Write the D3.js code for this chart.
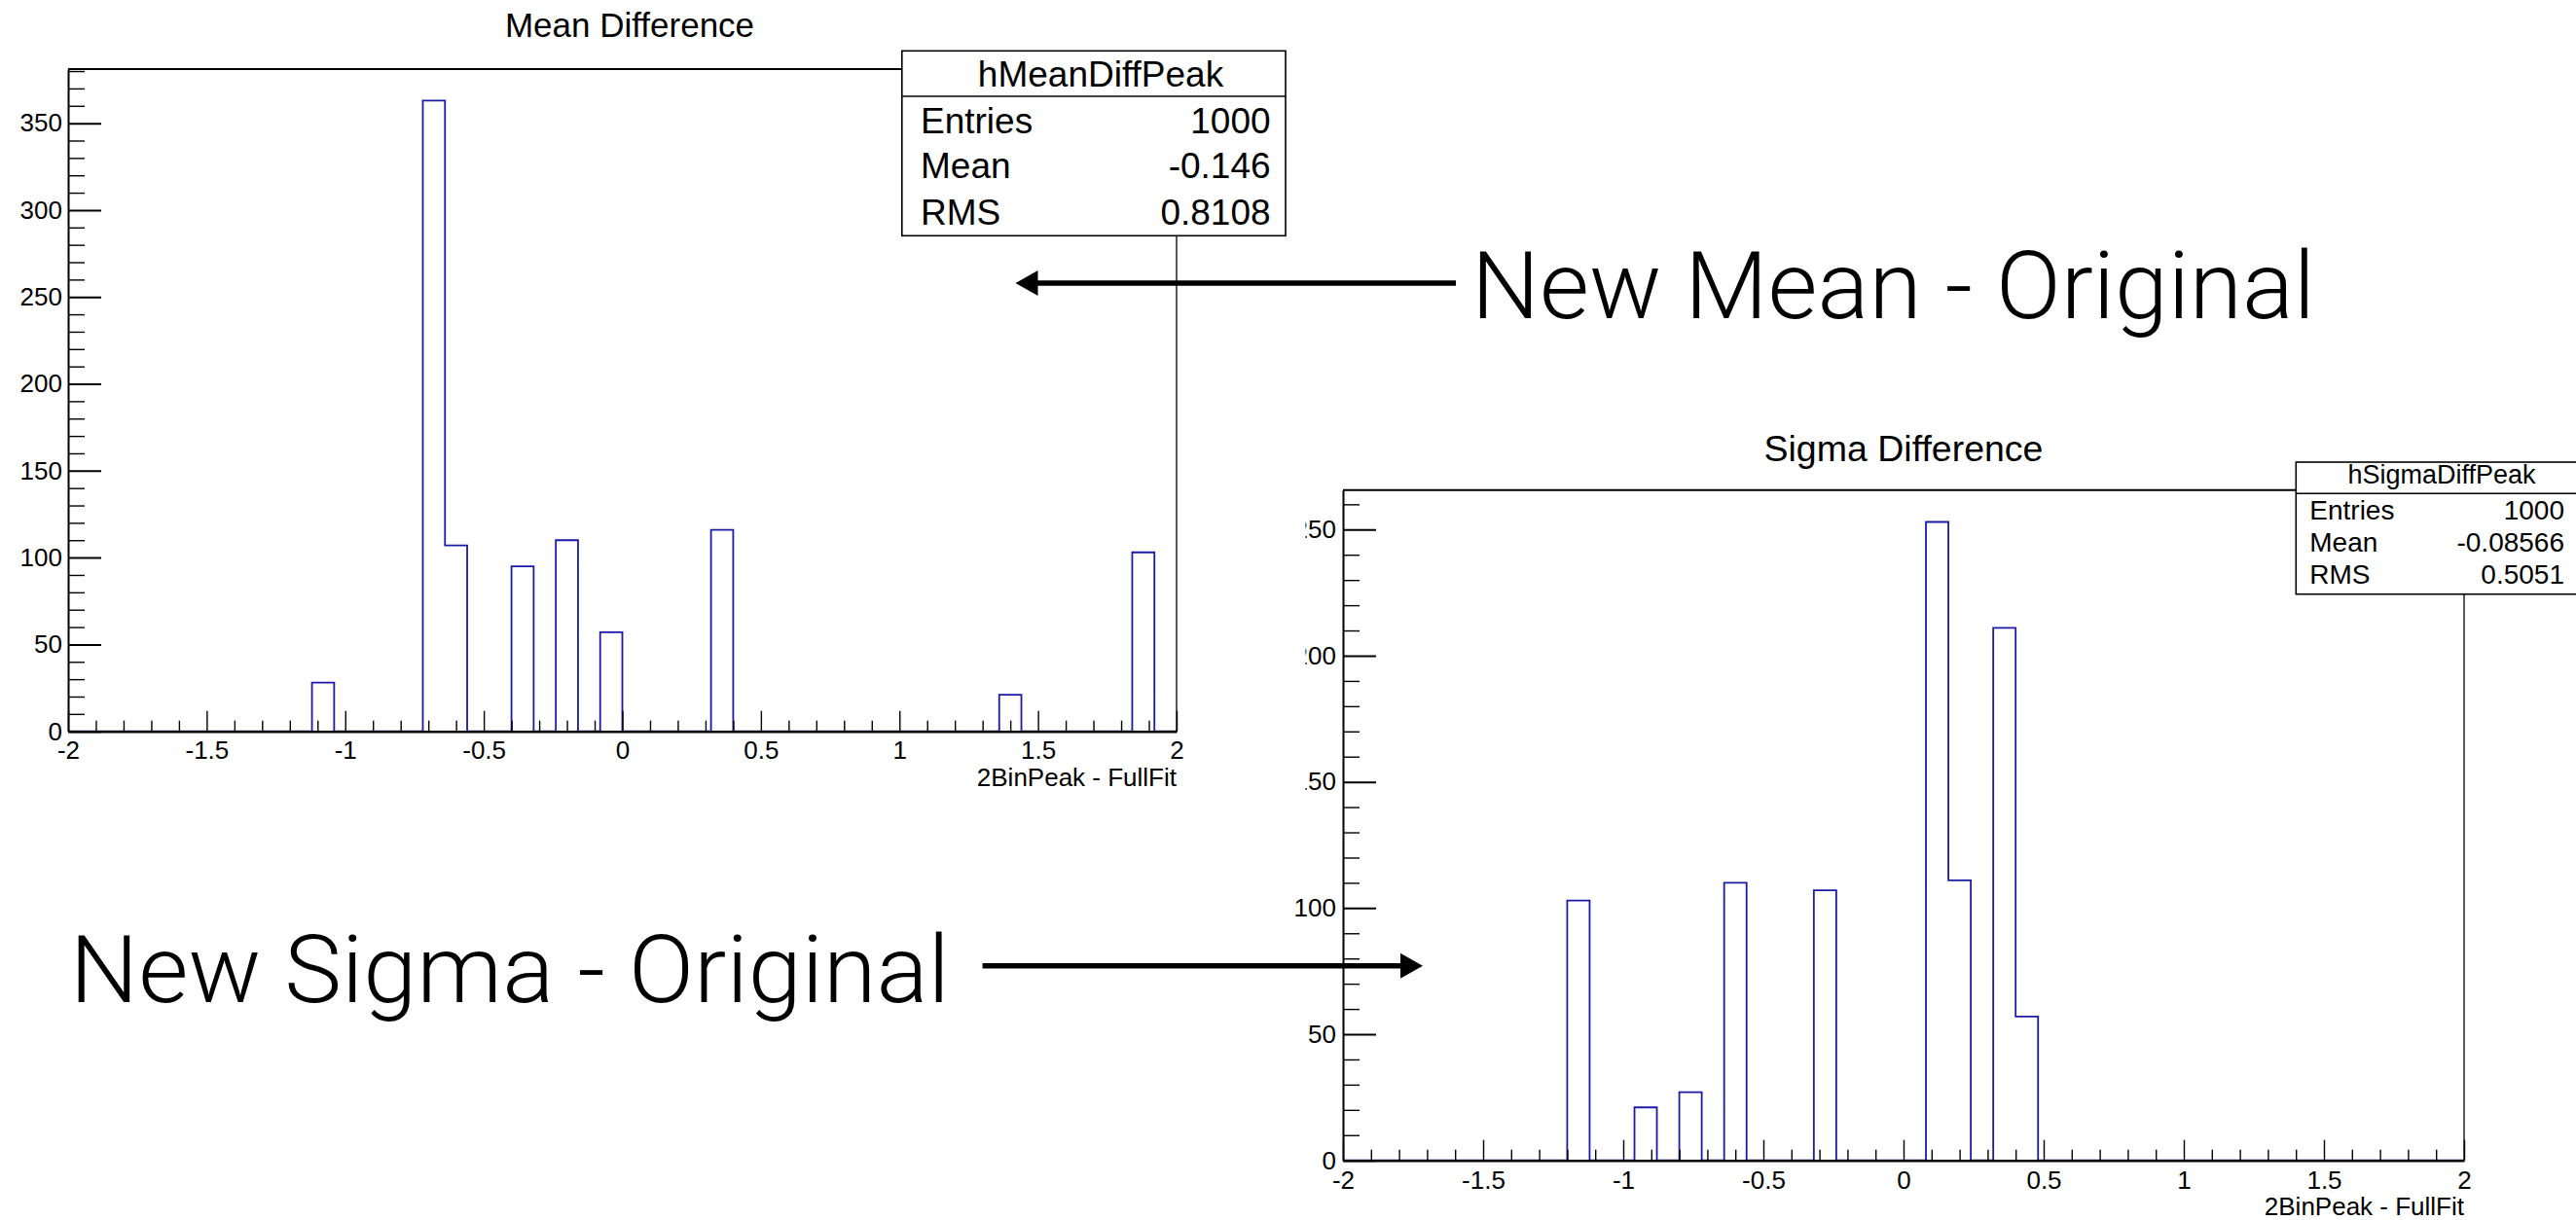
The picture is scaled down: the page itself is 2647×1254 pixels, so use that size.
<!DOCTYPE html>
<html>
<head>
<meta charset="utf-8">
<script src="https://cdn.jsdelivr.net/npm/d3@7"></script>
<style>
  body { margin: 0; background: #fff; }
  svg { display: block; }
</style>
</head>
<body>
<svg id="chart" width="2647" height="1254"></svg>
<script>
// histogram binning (both plots: 50 bins from -2 to 2)
var xLow = -2, xHigh = 2, binWidth = 0.08;
var xMajorTicks = [-2, -1.5, -1, -0.5, 0, 0.5, 1, 1.5, 2];
var xTickLabels = ["-2", "-1.5", "-1", "-0.5", "0", "0.5", "1", "1.5", "2"];
var xMinorStep = 0.1;
var xAxisTitle = "2BinPeak - FullFit";

// Mean difference histogram (only the non empty bins)
var meanBinLow = [-1.12, -0.72, -0.64, -0.40, -0.24, -0.08, 0.32, 1.36, 1.84];
var meanCounts = [28, 363, 107, 95, 110, 57, 116, 21, 103];
var meanYTicks = [0, 50, 100, 150, 200, 250, 300, 350];
var meanStats = [["Entries", "1000"], ["Mean", "-0.146"], ["RMS", "0.8108"]];

// Sigma difference histogram
var sigmaBinLow = [-1.20, -0.96, -0.80, -0.64, -0.32, 0.08, 0.16, 0.32, 0.40];
var sigmaCounts = [103, 21, 27, 110, 107, 253, 111, 211, 57];
var sigmaYTicks = [0, 50, 100, 150, 200, 250];
var sigmaStats = [["Entries", "1000"], ["Mean", "-0.08566"], ["RMS", "0.5051"]];

var svg = d3.select("#chart");
var rootFont = "'Liberation Sans', Arial, Helvetica, sans-serif";
var bigFont = "'Helvetica Neue', Roboto, Inter, 'Liberation Sans', sans-serif";
var histColor = "#1b1ba6";

function drawPanel(cfg) {
  var g = svg.append("g");

  var x = d3.scaleLinear().domain([xLow, xHigh]).range([cfg.left, cfg.right]);

  // remplir les 50 bins, 0 partout ailleurs
  var nBins = Math.round((xHigh - xLow) / binWidth);
  var counts = d3.range(nBins).map(function() { return 0; });
  cfg.binLow.forEach(function(b, i) {
    counts[Math.round((b - xLow) / binWidth)] = cfg.counts[i];
  });
  var yMax = d3.max(counts) * 1.05; // ROOT leaves 5% on top
  var y = d3.scaleLinear().domain([0, yMax]).range([cfg.bottom, cfg.top]);

  // histogram outline
  var pts = counts.map(function(c, i) { return [xLow + i * binWidth, c]; });
  pts.push([xHigh, 0]);
  var line = d3.line()
    .x(function(d) { return x(d[0]); })
    .y(function(d) { return y(d[1]); })
    .curve(d3.curveStepAfter);
  g.append("path")
    .datum(pts)
    .attr("d", line)
    .attr("fill", "none")
    .attr("stroke", histColor)
    .attr("stroke-width", 1.8);

  // frame: top line up to the stat box, right line below it
  g.append("line")
    .attr("x1", x(xLow)).attr("x2", cfg.box.x)
    .attr("y1", y(yMax)).attr("y2", y(yMax))
    .attr("stroke", "#000").attr("stroke-width", 2);
  g.append("line")
    .attr("x1", x(xHigh)).attr("x2", x(xHigh))
    .attr("y1", cfg.box.y + cfg.box.h).attr("y2", y(0))
    .attr("stroke", "#000").attr("stroke-width", 1.3);

  // y axis, ticks pointing inside
  var yMinor = d3.range(10, yMax, 10).filter(function(v) { return v % 50 !== 0; });
  g.append("g")
    .attr("transform", "translate(" + x(xLow) + ",0)")
    .call(d3.axisLeft(y).tickValues(yMinor).tickSizeInner(-17).tickSizeOuter(0).tickFormat(""))
    .call(function(a) { a.select(".domain").remove(); });
  var yAxis = g.append("g")
    .attr("transform", "translate(" + x(xLow) + ",0)")
    .call(d3.axisLeft(y).tickValues(cfg.yTicks).tickSizeInner(-34).tickSizeOuter(0)
      .tickPadding(cfg.yPad).tickFormat(d3.format("d")));
  yAxis.select(".domain").attr("stroke-width", 2);

  // x axis
  var xMinor = d3.range(-19, 20).map(function(k) { return k * xMinorStep; })
    .filter(function(v) { return Math.abs(v * 2 - Math.round(v * 2)) > 1e-6; });
  g.append("g")
    .attr("transform", "translate(0," + y(0) + ")")
    .call(d3.axisBottom(x).tickValues(xMinor).tickSizeInner(-11).tickSizeOuter(0).tickFormat(""))
    .call(function(a) { a.select(".domain").remove(); });
  var xAxis = g.append("g")
    .attr("transform", "translate(0," + y(0) + ")")
    .call(d3.axisBottom(x).tickValues(xMajorTicks).tickSizeInner(-21).tickSizeOuter(0)
      .tickPadding(cfg.xPad).tickFormat(function(d, i) { return xTickLabels[i]; }));
  xAxis.select(".domain").attr("stroke-width", 2.5);

  g.selectAll(".tick line").attr("stroke", "#000").attr("stroke-width", 1.4);
  yAxis.selectAll(".tick line").attr("stroke-width", 2);
  g.selectAll(".tick text")
    .attr("fill", "#000")
    .style("font-family", rootFont)
    .style("font-size", cfg.tickFont + "px");

  if (cfg.mask) {
    // the left edge of this pad is cut in the picture
    g.append("rect")
      .attr("x", cfg.mask[0]).attr("y", cfg.mask[1])
      .attr("width", cfg.mask[2]).attr("height", cfg.mask[3])
      .attr("fill", "#fff");
  }

  g.append("text")
    .attr("x", x(xHigh)).attr("y", cfg.xTitleY)
    .attr("text-anchor", "end")
    .style("font-family", rootFont).style("font-size", cfg.tickFont + "px")
    .text(xAxisTitle);

  // titre
  g.append("text")
    .attr("x", cfg.titleX).attr("y", cfg.titleY)
    .attr("text-anchor", "middle")
    .style("font-family", rootFont).style("font-size", cfg.titleFont + "px")
    .text(cfg.title);

  // stat box
  var b = cfg.box;
  g.append("rect")
    .attr("x", b.x).attr("y", b.y).attr("width", b.w).attr("height", b.h)
    .attr("fill", "#fff").attr("stroke", "#000").attr("stroke-width", 1.6);
  g.append("line")
    .attr("x1", b.x).attr("x2", b.x + b.w).attr("y1", b.hdr).attr("y2", b.hdr)
    .attr("stroke", "#000").attr("stroke-width", 1.6);
  g.append("text")
    .attr("x", b.nameX).attr("y", b.nameY)
    .attr("text-anchor", "middle")
    .style("font-family", rootFont).style("font-size", b.nameFont + "px")
    .text(cfg.name);
  cfg.stats.forEach(function(s, i) {
    g.append("text")
      .attr("x", b.labelX).attr("y", b.rowY[i])
      .style("font-family", rootFont).style("font-size", b.font + "px")
      .text(s[0]);
    g.append("text")
      .attr("x", b.valueX).attr("y", b.rowY[i])
      .attr("text-anchor", "end")
      .style("font-family", rootFont).style("font-size", b.font + "px")
      .text(s[1]);
  });
}

drawPanel({
  title: "Mean Difference", name: "hMeanDiffPeak",
  binLow: meanBinLow, counts: meanCounts, yTicks: meanYTicks, stats: meanStats,
  left: 70, right: 1209, top: 71, bottom: 751.7,
  tickFont: 26, yPad: 6, xPad: 10, xTitleY: 808,
  titleX: 647, titleY: 38, titleFont: 35,
  box: { x: 926.8, y: 52.3, w: 394.2, h: 190, hdr: 99,
         nameX: 1131, nameY: 89.3, nameFont: 37,
         labelX: 946, valueX: 1305.6, rowY: [136.7, 182.7, 231], font: 37 }
});

drawPanel({
  title: "Sigma Difference", name: "hSigmaDiffPeak",
  binLow: sigmaBinLow, counts: sigmaCounts, yTicks: sigmaYTicks, stats: sigmaStats,
  left: 1380, right: 2532, top: 503.7, bottom: 1192.7,
  tickFont: 26, yPad: 7, xPad: 10.5, xTitleY: 1249,
  titleX: 1956, titleY: 474, titleFont: 37.5,
  box: { x: 2359.3, y: 475, w: 300, h: 135.7, hdr: 507.3,
         nameX: 2509, nameY: 497.3, nameFont: 27,
         labelX: 2373.3, valueX: 2635, rowY: [534, 566.7, 600], font: 28 },
  mask: [1280, 490, 61.5, 390]
});

// annotations (flèches + texte)
function arrow(x1, x2, yy) {
  var dir = x2 > x1 ? 1 : -1;
  svg.append("line")
    .attr("x1", x1).attr("x2", x2 - dir * 20).attr("y1", yy).attr("y2", yy)
    .attr("stroke", "#000").attr("stroke-width", 5.5);
  svg.append("path")
    .attr("d", "M" + x2 + "," + yy + "L" + (x2 - dir * 23) + "," + (yy - 13) +
               "L" + (x2 - dir * 23) + "," + (yy + 13) + "Z")
    .attr("fill", "#000");
}
arrow(1496, 1043.5, 291);
arrow(1009.6, 1462, 992.7);

svg.append("text")
  .attr("x", 1512).attr("y", 327.3)
  .attr("textLength", 867).attr("lengthAdjust", "spacingAndGlyphs")
  .style("font-family", bigFont).style("font-weight", 300).style("font-size", "96px")
  .text("New Mean - Original");
svg.append("text")
  .attr("x", 71.8).attr("y", 1030)
  .attr("textLength", 904).attr("lengthAdjust", "spacingAndGlyphs")
  .style("font-family", bigFont).style("font-weight", 300).style("font-size", "96px")
  .text("New Sigma - Original");
</script>
</body>
</html>
